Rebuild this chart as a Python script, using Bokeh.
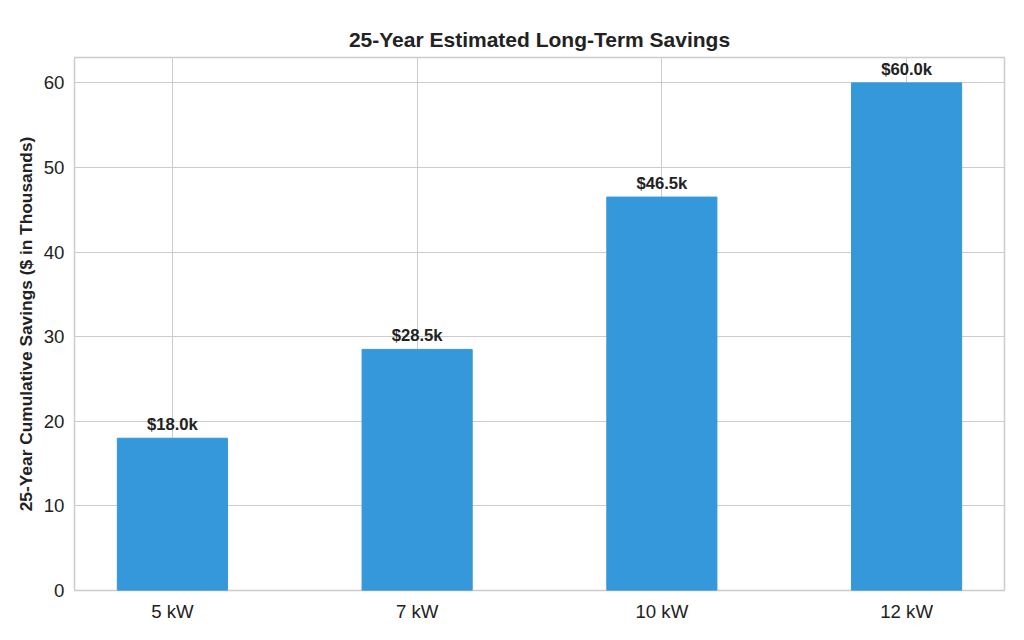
from bokeh.plotting import figure
from bokeh.models import ColumnDataSource, Range1d, FixedTicker
from bokeh.embed import file_html
from bokeh.resources import INLINE

categories = ["5 kW", "7 kW", "10 kW", "12 kW"]
savings = [18.0, 28.5, 46.5, 60.0]
labels = ["$%.1fk" % v for v in savings]
xs = list(range(len(categories)))

src = ColumnDataSource(dict(x=xs, top=savings, lab=labels))

p = figure(width=1008, height=624, output_backend="svg", toolbar_location=None,
           x_range=Range1d(-0.4, 3.4), y_range=Range1d(0, 63),
           title="25-Year Estimated Long-Term Savings",
           min_border_left=74, min_border_right=4, min_border_bottom=29, min_border_top=57)
p.title.align = "center"
p.title.text_font = "Liberation Sans"
p.title.text_font_size = "21px"
p.title.text_color = "#222222"
p.title.standoff = 14

p.vbar(x="x", top="top", width=0.45, source=src, color="#3498db")
p.text(x="x", y="top", text="lab", source=src, text_align="center", text_baseline="bottom",
       y_offset=-4, text_font_size="12.5pt", text_font_style="bold", text_color="#222222",
       text_font={"value": "Liberation Sans"})

p.xaxis.ticker = FixedTicker(ticks=xs)
p.xaxis.major_label_overrides = {i: c for i, c in enumerate(categories)}
p.yaxis.ticker = FixedTicker(ticks=[0, 10, 20, 30, 40, 50, 60])
for ax in (p.xaxis, p.yaxis):
    ax.major_tick_line_color = None
    ax.minor_tick_line_color = None
    ax.axis_line_color = None
    ax.major_label_text_font = "Liberation Sans"
    ax.major_label_text_font_size = "14pt"
    ax.major_label_text_color = "#222222"
    ax.major_label_standoff = 4
p.yaxis.axis_label = "25-Year Cumulative Savings ($ in Thousands)"
p.yaxis.axis_label_text_font = "Liberation Sans"
p.yaxis.axis_label_text_font_style = "bold"
p.yaxis.axis_label_text_font_size = "13pt"
p.yaxis.axis_label_text_color = "#222222"
p.xgrid.grid_line_color = "#cccccc"
p.ygrid.grid_line_color = "#cccccc"
p.outline_line_color = "#cccccc"
p.outline_line_width = 1.5

open("out.html", "w").write(file_html(p, INLINE))
